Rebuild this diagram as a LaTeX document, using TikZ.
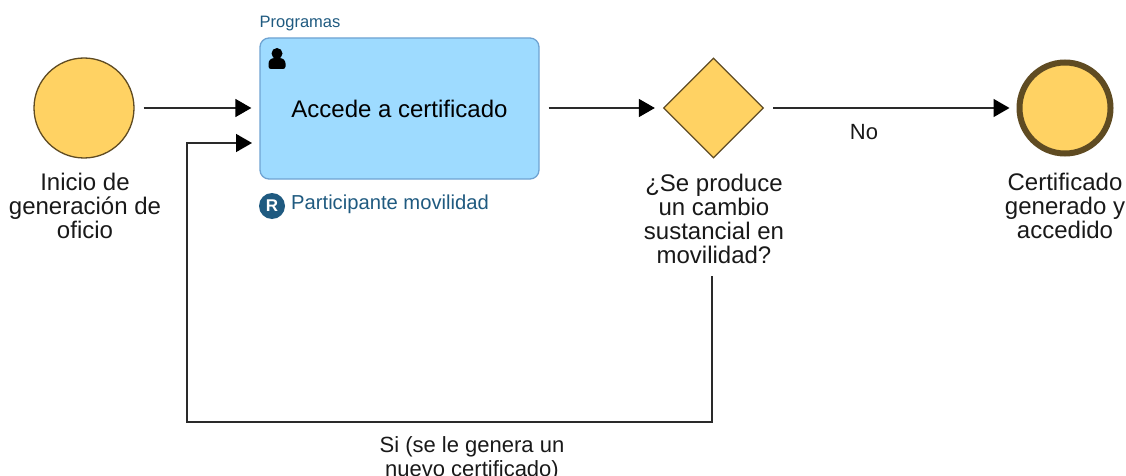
\documentclass[tikz,border=0pt]{standalone}
\usepackage{fontspec}
\setmainfont{Liberation Sans}
\usetikzlibrary{arrows.meta,shapes.geometric}
\definecolor{evfill}{HTML}{FFD263}
\definecolor{evline}{HTML}{5F4B22}
\definecolor{taskfill}{HTML}{9EDBFF}
\definecolor{taskline}{HTML}{6FA3D2}
\definecolor{noteblue}{HTML}{1F5A80}
\definecolor{linegray}{HTML}{2A2A2A}
\tikzset{
  x=1pt,y=-1pt,
  startev/.style={circle,draw=evline,fill=evfill,line width=1.3pt,minimum size=100pt,inner sep=0pt},
  endev/.style={circle,draw=evline,fill=evfill,line width=6pt,minimum size=91pt,inner sep=0pt},
  gw/.style={diamond,draw=evline,fill=evfill,line width=1.3pt,minimum width=100pt,minimum height=100pt,inner sep=0pt},
  taskbox/.style={rectangle,rounded corners=9pt,draw=taskline,fill=taskfill,line width=1.3pt,minimum width=279pt,minimum height=141pt,inner sep=0pt,font=\fontsize{24}{28}\selectfont},
  lbl/.style={align=center,font=\fontsize{24}{24}\selectfont,text=black!90,inner sep=0pt},
  edgelbl/.style={align=center,font=\fontsize{22}{24}\selectfont,text=black!90,inner sep=0pt},
  flow/.style={draw=linegray,line width=1.5pt,-{Triangle[length=16pt,width=18pt,color=black]}},
  small/.style={text=noteblue,inner sep=0pt,anchor=west},
}
\begin{document}
\begin{tikzpicture}
\useasboundingbox (0,0) rectangle (1126,476);
\node[startev] (start) at (84,108) {};
\node[taskbox] (task) at (399.5,108.5) {Accede a certificado};
\node[gw] (gate) at (713.5,108) {};
\node[endev] (end) at (1065,108) {};
\node[lbl] (startl) at (85,206) {Inicio de\\generación de\\oficio};
\node[lbl] (gatel) at (714,218.5) {¿Se produce\\un cambio\\sustancial en\\movilidad?};
\node[lbl] (endl) at (1065,206) {Certificado\\generado y\\accedido};
\node[edgelbl] (nol) at (864,132) {No};
\node[edgelbl] (sil) at (472,459) {Si (se le genera un\\nuevo certificado)};
\node[small,font=\fontsize{16.5}{18}\selectfont] (prog) at (259.5,23.5) {Programas};
\node[circle,fill=noteblue,text=white,minimum size=26pt,inner sep=0pt,font=\fontsize{17}{18}\selectfont\bfseries] (rb) at (272,206) {R};
\node[small,font=\fontsize{20.2}{22}\selectfont] (part) at (291,204.5) {Participante movilidad};
\coordinate (tin2) at (260,143);
\coordinate (c1) at (187,143);
\coordinate (c2) at (187,422);
\coordinate (c3) at (712,422);
\coordinate (gout) at (712,276);
\path[fill=black] (277,53.5) circle (5.5);
\path[fill=black,rounded corners=2.5pt] (268.5,69) -- (268.5,61) -- (272,58) -- (282,58) -- (285.5,61) -- (285.5,69) -- cycle;
\draw[flow,shorten <=9pt,shorten >=8pt] (start.east) -- (task.west |- start.east);
\draw[flow,shorten <=9pt,shorten >=8pt] (task.east |- gate.west) -- (gate.west);
\draw[flow,shorten <=9pt,shorten >=7pt] (gate.east) -- (end.west);
\draw[flow,shorten >=8pt] (gout) -- (c3) -- (c2) -- (c1) -- (tin2);
\end{tikzpicture}
\end{document}
